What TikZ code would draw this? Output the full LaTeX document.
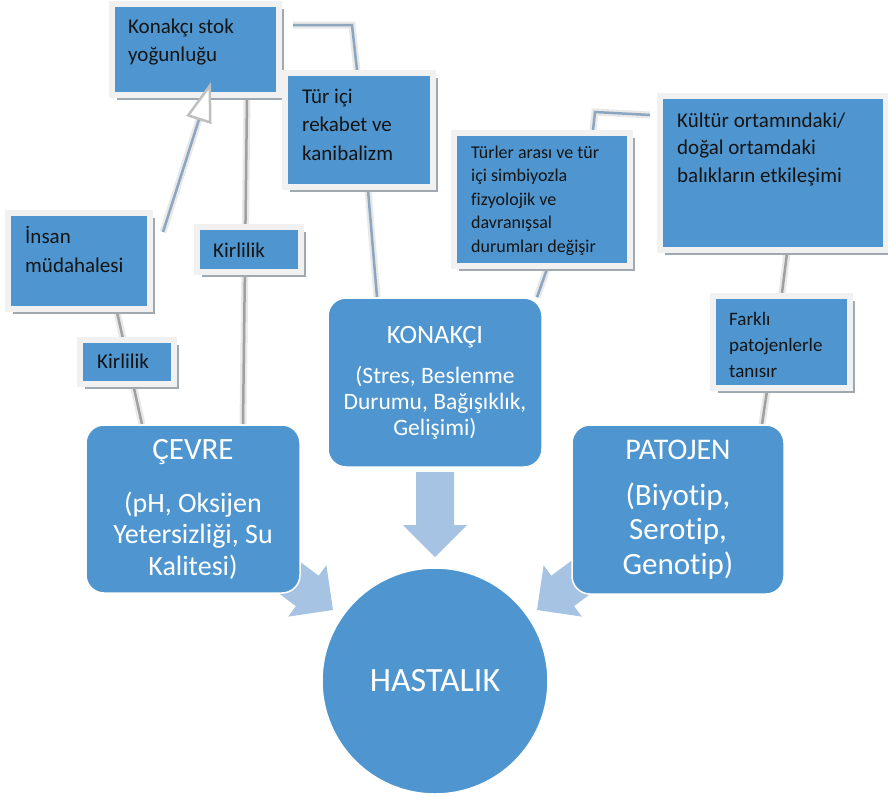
\documentclass[tikz,border=0pt]{standalone}
\usepackage{fontspec}
\setmainfont{Carlito}[Ligatures=NoCommon]
\usetikzlibrary{shadows,arrows.meta,calc}
\definecolor{boxblue}{RGB}{79,150,208}
\definecolor{arrowblue}{RGB}{167,195,227}
\definecolor{framec}{RGB}{241,241,241}
\definecolor{shadc}{RGB}{160,168,178}
\definecolor{linebg}{RGB}{232,232,232}
\definecolor{linegray}{RGB}{160,160,160}
\definecolor{lineblue}{RGB}{140,166,192}
\definecolor{txtdark}{RGB}{20,20,20}
\pgfdeclarelayer{bg}
\pgfdeclarelayer{fg}
\pgfsetlayers{bg,main,fg}
\begin{document}
\begin{tikzpicture}[x=1pt,y=-1pt,
  callout/.style={rectangle, fill=boxblue, draw=framec, line width=6pt, inner sep=0pt,
    drop shadow={shadow xshift=5pt, shadow yshift=-5pt, fill=shadc, opacity=1}},
  ctext/.style={anchor=base west, inner sep=0pt, align=left, text=txtdark,
    font=\fontsize{21}{28}\selectfont},
  mainbox/.style={rectangle, rounded corners=18pt, fill=boxblue, draw=white,
    line width=1.5pt, text=white, align=center, inner sep=0pt},
  conn/.style={draw=#1, line width=2.5pt, preaction={draw=linebg, line width=7pt}},
  conn/.default=linegray,
  blockarrow/.style={fill=arrowblue, draw=none}
]
\useasboundingbox (0,0) rectangle (888,796);

% block arrows (under the boxes)
\begin{pgfonlayer}{bg}
\fill[blockarrow] (416,472) -- (454,472) -- (454,525) -- (467,525) -- (435,557) -- (403,525) -- (416,525) -- cycle;
\fill[blockarrow] (262.6,533.8) -- (318.7,575.7) -- (326.4,565.2) -- (333,610) -- (288.2,616.6) -- (295.9,606.1) -- (239.8,564.2) -- cycle;
\fill[blockarrow] (607.4,533.8) -- (551.3,575.7) -- (543.6,565.2) -- (537,610) -- (581.8,616.6) -- (574.1,606.1) -- (630.2,564.2) -- cycle;
\end{pgfonlayer}

% main shapes
\node[mainbox, minimum width=214pt, minimum height=168pt, font=\fontsize{28}{31.5}\selectfont] (cevre) at (193,509)
  {{\fontsize{31}{31.5}\selectfont ÇEVRE}\\[21.5pt](pH, Oksijen\\Yetersizliği, Su\\Kalitesi)};
\node[mainbox, minimum width=214pt, minimum height=169pt, font=\fontsize{23.5}{26}\selectfont] (konakci) at (435,382.5)
  {{\fontsize{26.5}{26}\selectfont KONAKÇI}\\[14pt](Stres, Beslenme\\Durumu, Bağışıklık,\\Gelişimi)};
\node[mainbox, minimum width=212pt, minimum height=169pt, font=\fontsize{31}{34.5}\selectfont] (patojen) at (678,509.5)
  {{\fontsize{30}{34.5}\selectfont PATOJEN}\\[11.5pt](Biyotip,\\Serotip,\\Genotip)};
\node[circle, fill=boxblue, draw=white, line width=1.5pt, minimum size=226pt, inner sep=0pt,
  text=white, font=\fontsize{34}{40}\selectfont] (hastalik) at (435,681) {HASTALIK};

% callout boxes (text nodes anchored at the baseline of their last line)
\node[callout, minimum width=167pt, minimum height=91pt] (kstok) at (195.5,49.5) {};
\node[ctext] (kstokt) at (128,61) {Konakçı stok\\yoğunluğu};
\node[callout, minimum width=148pt, minimum height=114pt] (tur) at (359,130) {};
\node[ctext, font=\fontsize{21}{28.5}\selectfont] (turt) at (302,160) {Tür içi\\rekabet ve\\kanibalizm};
\node[callout, minimum width=176pt, minimum height=133pt] (turler) at (542,199.5) {};
\node[ctext, font=\fontsize{18}{23.5}\selectfont] (turlert) at (471,252) {Türler arası ve tür\\içi simbiyozla\\fizyolojik ve\\davranışsal\\durumları değişir};
\node[callout, minimum width=226pt, minimum height=154pt] (kultur) at (773,173) {};
\node[ctext, font=\fontsize{21}{27.5}\selectfont] (kulturt) at (677,182) {Kültür ortamındaki/\\doğal ortamdaki\\balıkların etkileşimi};
\node[callout, minimum width=137pt, minimum height=92pt] (farkli) at (781.5,342) {};
\node[ctext, font=\fontsize{19}{26}\selectfont] (farklit) at (729,377) {Farklı\\patojenlerle\\tanısır};
\node[callout, minimum width=142pt, minimum height=96pt] (insan) at (79,261) {};
\node[ctext, font=\fontsize{21}{29}\selectfont] (insant) at (25,272) {İnsan\\müdahalesi};
\node[callout, minimum width=94pt, minimum height=44pt] (kir1) at (127,362) {};
\node[ctext] (kir1t) at (97,368) {Kirlilik};
\node[callout, minimum width=104pt, minimum height=45pt] (kir2) at (249,249.5) {};
\node[ctext] (kir2t) at (213,257) {Kirlilik};

\coordinate (turcall) at (293,25);
\coordinate (turlercall) at (650,115);
\coordinate (insancall) at (163,232);

% connectors
\begin{pgfonlayer}{bg}
\draw[conn] ([xshift=51.5pt]kstok.south) -- ([xshift=50pt]cevre.north);
\draw[conn] ([xshift=38pt]insan.south) -- ([xshift=-51pt]cevre.north);
\draw[conn=lineblue] ([xshift=9pt]tur.south) -- ([xshift=-58pt]konakci.north);
\draw[conn=lineblue] ([xshift=5pt]turler.south) -- ([xshift=102pt]konakci.north);
\draw[conn] ([xshift=14pt]kultur.south) -- ([xshift=0.5pt]farkli.north);
\draw[conn] ([xshift=-14.5pt]farkli.south) -- ([xshift=84pt]patojen.north);
\draw[conn=lineblue] (turcall) -- ++(59,0) -- ([xshift=-2pt]tur.north);
\draw[conn=lineblue] ([xshift=51pt]turler.north) -- ++(2,-18) -- (turlercall);
\end{pgfonlayer}

\begin{pgfonlayer}{fg}
\draw[line width=7pt, linebg, shorten >=36pt] (insancall) -- ([xshift=15.5pt,yshift=16pt]kstok.south);
\draw[line width=2.5pt, lineblue, -{Triangle[length=40pt, width=26pt, color=black!25, fill=white, line width=2.5pt]}]
  (insancall) -- ([xshift=15.5pt,yshift=16pt]kstok.south);
\end{pgfonlayer}
\end{tikzpicture}
\end{document}
